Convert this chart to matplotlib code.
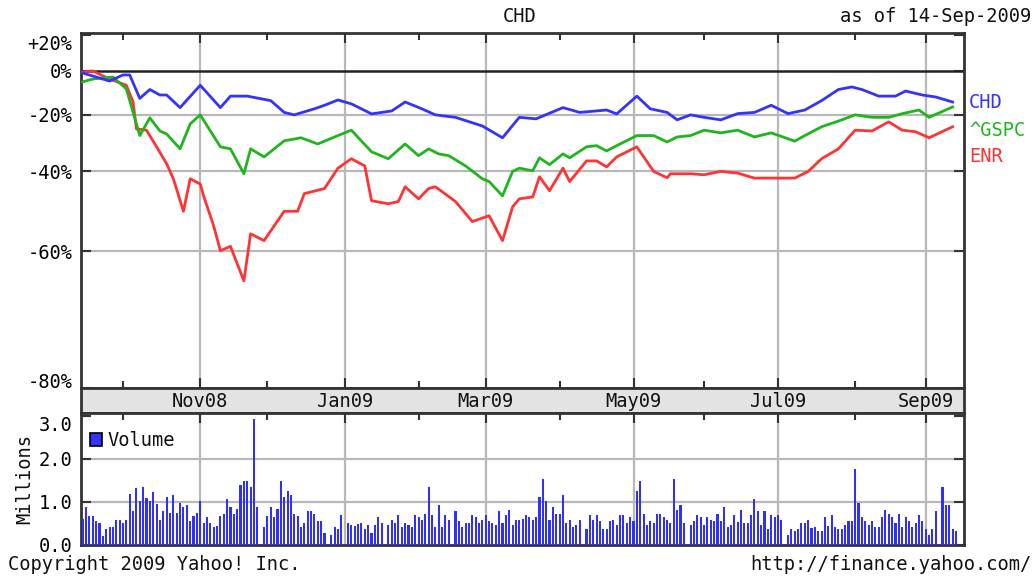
import numpy as np
import pandas as pd
import matplotlib
matplotlib.use('Agg')
import matplotlib.pyplot as plt
from matplotlib.transforms import blended_transform_factory
from matplotlib.patches import Rectangle
from matplotlib.ticker import NullLocator, FixedLocator

START = '2008-09-15'
END = '2009-09-14'
holidays = ['2008-11-27', '2008-12-25', '2009-01-01', '2009-01-19', '2009-02-16',
            '2009-04-10', '2009-05-25', '2009-07-03', '2009-09-07']

# ---- percent change series ----
chd_dates = ['2008-09-15', '2008-09-25', '2008-10-01', '2008-10-03', '2008-10-08', '2008-10-13',
             '2008-10-16', '2008-10-20', '2008-10-24', '2008-11-03', '2008-11-11', '2008-11-14',
             '2008-11-21', '2008-12-02', '2008-12-08', '2008-12-11', '2008-12-19', '2008-12-24',
             '2008-12-30', '2009-01-05', '2009-01-13', '2009-01-21', '2009-01-27', '2009-02-03',
             '2009-02-09', '2009-02-17', '2009-02-27', '2009-03-09', '2009-03-16', '2009-03-23',
             '2009-04-02', '2009-04-09', '2009-04-21', '2009-04-24', '2009-05-04', '2009-05-08',
             '2009-05-15', '2009-05-20', '2009-05-26', '2009-06-01', '2009-06-08', '2009-06-15',
             '2009-06-22', '2009-06-29', '2009-07-06', '2009-07-13', '2009-07-20', '2009-07-27',
             '2009-07-31', '2009-08-05', '2009-08-12', '2009-08-19', '2009-08-24', '2009-08-31',
             '2009-09-04', '2009-09-11']
chd_pct = [-1, -5, -2, -2, -13, -9, -11.5, -11.5, -17, -7, -17, -12,
           -12, -14, -19, -20, -17.5, -16, -13.7, -15.4, -19.6, -18.4, -14.6, -17.5,
           -20, -21, -24.4, -28.8, -21, -21.6, -17, -19, -18, -19.6, -12, -17.5,
           -19, -22, -20, -21, -22, -19.5, -19, -16, -19.5, -18, -14, -9,
           -7.8, -9, -12, -12, -9.7, -11.5, -12.4, -14.6]

gspc_dates = ['2008-09-15', '2008-09-18', '2008-09-26', '2008-10-02', '2008-10-08', '2008-10-13',
              '2008-10-16', '2008-10-20', '2008-10-24', '2008-10-29', '2008-11-03', '2008-11-11',
              '2008-11-14', '2008-11-20', '2008-11-24', '2008-11-28', '2008-12-08', '2008-12-15',
              '2008-12-22', '2008-12-30', '2009-01-05', '2009-01-13', '2009-01-20', '2009-01-27',
              '2009-02-02', '2009-02-05', '2009-02-10', '2009-02-13', '2009-02-20', '2009-02-27',
              '2009-03-03', '2009-03-09', '2009-03-12', '2009-03-16', '2009-03-20', '2009-03-24',
              '2009-03-27', '2009-04-02', '2009-04-06', '2009-04-13', '2009-04-16', '2009-04-21',
              '2009-04-27', '2009-05-04', '2009-05-11', '2009-05-15', '2009-05-20', '2009-05-26',
              '2009-06-01', '2009-06-08', '2009-06-15', '2009-06-22', '2009-06-29', '2009-07-08',
              '2009-07-13', '2009-07-20', '2009-07-27', '2009-08-03', '2009-08-10', '2009-08-17',
              '2009-08-21', '2009-08-28', '2009-09-02', '2009-09-11']
gspc_pct = [-5.4, -4, -3, -8.7, -28, -21.2, -26.3, -27.4, -32.7, -23.6, -20, -32,
            -32.7, -40.7, -32.7, -35.4, -29.9, -28.8, -31, -28, -26, -33.7, -36, -31,
            -35, -32.7, -34.4, -35, -38.3, -42.2, -43, -47, -40, -39, -39.8, -35.7,
            -37.9, -34.4, -35.7, -32, -31.6, -33.4, -31, -28, -28, -30.3, -28.5, -28,
            -26, -27, -26, -28.5, -27, -30, -28, -24.7, -22.5, -20, -21, -21,
            -19.5, -18, -21, -16.7]

enr_dates = ['2008-09-15', '2008-09-18', '2008-09-25', '2008-10-02', '2008-10-06', '2008-10-07',
             '2008-10-10', '2008-10-15', '2008-10-20', '2008-10-22', '2008-10-27', '2008-10-29',
             '2008-11-03', '2008-11-04', '2008-11-07', '2008-11-11', '2008-11-14', '2008-11-20',
             '2008-11-24', '2008-11-28', '2008-12-08', '2008-12-12', '2008-12-16', '2008-12-24',
             '2008-12-30', '2009-01-05', '2009-01-09', '2009-01-13', '2009-01-20', '2009-01-23',
             '2009-01-27', '2009-02-02', '2009-02-05', '2009-02-09', '2009-02-17', '2009-02-24',
             '2009-03-03', '2009-03-09', '2009-03-12', '2009-03-16', '2009-03-20', '2009-03-24',
             '2009-03-27', '2009-04-02', '2009-04-06', '2009-04-13', '2009-04-16', '2009-04-21',
             '2009-04-24', '2009-05-04', '2009-05-11', '2009-05-15', '2009-05-18', '2009-05-26',
             '2009-06-01', '2009-06-08', '2009-06-15', '2009-06-22', '2009-07-01', '2009-07-08',
             '2009-07-14', '2009-07-20', '2009-07-27', '2009-08-03', '2009-08-10', '2009-08-14',
             '2009-08-17', '2009-08-21', '2009-08-27', '2009-09-02', '2009-09-11']
enr_pct = [-0.5, 0, -4, -7, -14.6, -25.5, -26, -32, -37.6, -42.2, -51, -42.2,
           -43.7, -47, -54.5, -59.9, -59, -65.6, -56.3, -57.8, -51, -51, -46.4, -45,
           -39, -36, -38.3, -48.3, -49.1, -48.5, -44.5, -47.8, -45, -44.5, -48.5, -53.5,
           -52.1, -57.8, -49.9, -47.8, -47.3, -41.6, -45.6, -39, -43, -36.7, -36.7, -38.6,
           -35.4, -32, -40, -41.9, -40.7, -40.7, -41, -40, -40.5, -42, -42, -42,
           -40, -36, -32.7, -26, -26.3, -23.5, -22.8, -26, -26.6, -28.8, -24.7]

# ---- daily volume, millions (one value per trading session) ----
volume = [0.61, 0.88, 0.68, 0.68, 0.55, 0.50, 0.22, 0.36, 0.42, 0.42,
          0.59, 0.59, 0.50, 0.59, 1.19, 0.78, 1.32, 1.02, 1.34, 1.09,
          1.02, 1.24, 0.96, 0.59, 0.78, 1.11, 0.75, 1.15, 0.75, 0.98,
          0.88, 0.93, 0.55, 0.68, 0.75, 1.02, 0.52, 0.65, 0.50, 0.42,
          0.45, 0.67, 0.71, 1.07, 0.88, 0.71, 0.84, 1.38, 1.48, 1.48,
          1.35, 2.92, 0.88,
          0.42, 0.68, 0.88, 0.65, 0.84, 1.48, 1.11, 1.25, 1.15, 0.73,
          0.68, 0.42, 0.50, 0.78, 0.78, 0.73, 0.55, 0.55, 0.28,
          0.23, 0.42, 0.36, 0.69,
          0.50, 0.46, 0.43, 0.48, 0.50, 0.36, 0.46, 0.28, 0.46, 0.65, 0.50,
          0.46, 0.59, 0.52, 0.69, 0.42, 0.50, 0.46, 0.42, 0.69, 0.65,
          0.59, 0.73, 1.34, 0.69, 0.42, 0.92, 0.42, 0.69, 0.59,
          0.78, 0.55, 0.42, 0.50, 0.50, 0.69, 0.65, 0.50, 0.59, 0.69,
          0.55, 0.50, 0.46, 0.78, 0.50, 0.69, 0.82, 0.46, 0.59,
          0.59, 0.61, 0.69, 0.65, 0.59, 0.65, 1.12, 1.53, 1.01, 0.59,
          0.88, 0.73, 0.73, 1.15, 0.50, 0.59, 0.42, 0.46, 0.59,
          0.36, 0.69, 0.59, 0.69, 0.55, 0.36, 0.36, 0.55, 0.59, 0.46,
          0.69, 0.69, 0.50, 0.65, 0.55, 1.25, 1.48, 0.73, 0.46, 0.55,
          0.50, 0.73, 0.73, 0.65, 0.59, 0.50, 1.53, 0.82, 0.92, 0.50,
          0.46, 0.55, 0.69, 0.65, 0.46, 0.65, 0.59, 0.55, 0.73, 0.55,
          0.88, 0.42, 0.46, 0.69, 0.53, 0.82, 0.50, 0.50, 0.69, 1.07,
          0.78, 0.46, 0.78, 0.36, 0.69, 0.65, 0.69, 0.59,
          0.23, 0.36, 0.32, 0.36, 0.50, 0.50, 0.59, 0.40, 0.42, 0.32,
          0.32, 0.65, 0.45, 0.69, 0.42, 0.36, 0.36, 0.46, 0.55, 0.55,
          1.76, 0.98, 0.65, 0.55, 0.46, 0.55, 0.42, 0.42, 0.65, 0.82,
          0.73, 0.65, 0.50, 0.73, 0.42, 0.65, 0.55, 0.42, 0.50, 0.69,
          0.55, 0.36, 0.23, 0.36, 0.78,
          1.34, 0.92, 0.92, 0.36, 0.32]

month_starts = ['2008-10-01', '2008-11-01', '2008-12-01', '2009-01-01', '2009-02-01',
                '2009-03-01', '2009-04-01', '2009-05-01', '2009-06-01', '2009-07-01',
                '2009-08-01', '2009-09-01']
month_labels = ['', 'Nov08', '', 'Jan09', '', 'Mar09', '', 'May09', '', 'Jul09', '', 'Sep09']

pct_ticks = [20, 0, -20, -40, -60, -80]
pct_labels = ['+20%', '0%', '-20%', '-40%', '-60%', '-80%']
pct_grid = [-20, -40, -60]
vol_ticks = [0, 1, 2, 3]
vol_labels = ['0.0', '1.0', '2.0', '3.0']

# ---- helpers ----
def wpos(dates):
    """weekday-index scale used by the chart's time axis"""
    return np.busday_count(np.datetime64(START), np.array(dates, dtype='datetime64[D]'))

def ratio(p):
    return 1 + np.asarray(p, dtype=float) / 100.0

trade_days = pd.bdate_range(START, END, freq='C', holidays=holidays)
vol_x = wpos(trade_days.values.astype('datetime64[D]'))
n_days = np.busday_count(np.datetime64(START), np.datetime64(END))

FONT = 'DejaVu Sans Mono'
FS = 13.5
plt.rcParams['font.family'] = FONT

BLUE = '#3333ff'
GREEN = '#1fb51f'
RED = '#ff3333'
GRID = '#b8b8b8'
EDGE = '#333333'

W, H = 1036, 577
fig = plt.figure(figsize=(W / 100, H / 100), dpi=100)

def rect(l, t, r, b):
    return [l / W, 1 - b / H, (r - l) / W, (b - t) / H]

ax = fig.add_axes(rect(81, 33, 964, 388))
axb = fig.add_axes(rect(81, 388, 964, 413))
axv = fig.add_axes(rect(81, 413, 964, 545))

xlim = (-0.5, n_days + 2.4)
major_pos = [p for p, l in zip(wpos(month_starts), month_labels) if l]
minor_pos = [p for p, l in zip(wpos(month_starts), month_labels) if not l]

# ---- price panel ----
ax.set_yscale('log')
ax.set_ylim(0.1995, 1.213)
ax.set_xlim(*xlim)
for g in pct_grid:
    ax.axhline(ratio(g), color=GRID, lw=1.6, zorder=1)
for p in major_pos:
    ax.axvline(p, color=GRID, lw=1.6, zorder=1)
ax.axhline(1.0, color='#222222', lw=1.8, zorder=2)

ax.plot(wpos(enr_dates), ratio(enr_pct), color=RED, lw=2.0, zorder=3)
ax.plot(wpos(gspc_dates), ratio(gspc_pct), color=GREEN, lw=2.0, zorder=4)
ax.plot(wpos(chd_dates), ratio(chd_pct), color=BLUE, lw=2.0, zorder=5)

ax.yaxis.set_major_locator(FixedLocator(ratio(pct_ticks)))
ax.yaxis.set_minor_locator(NullLocator())
ax.set_yticklabels(pct_labels)
ax.set_xticks(major_pos)
ax.set_xticks(minor_pos, minor=True)
ax.tick_params(axis='both', which='major', direction='in', length=7, width=1.5,
               color=EDGE, left=True, right=True, top=True, bottom=True,
               labelbottom=False, labelsize=FS, pad=6)
ax.tick_params(axis='x', which='minor', direction='in', length=5, width=1.5,
               color=EDGE, top=True, bottom=True)
ax.tick_params(axis='y', which='both', labelsize=FS)
ylabels = ax.get_yticklabels()
ylabels[0].set_verticalalignment('top')
ylabels[-1].set_verticalalignment('baseline')
for s in ax.spines.values():
    s.set_linewidth(2)
    s.set_color(EDGE)

# ---- month label band ----
axb.set_facecolor('#e3e3e3')
axb.set_xlim(*xlim)
axb.set_ylim(0, 1)
axb.set_xticks([])
axb.set_yticks([])
for s in axb.spines.values():
    s.set_linewidth(2)
    s.set_color(EDGE)
tb = blended_transform_factory(axb.transData, axb.transAxes)
for p, l in zip(wpos(month_starts), month_labels):
    if l:
        axb.text(p, 0.45, l, transform=tb, ha='center', va='center', fontsize=FS, color='#111111')

# ---- volume panel ----
axv.set_xlim(*xlim)
axv.set_ylim(0, 3.06)
for g in [1, 2]:
    axv.axhline(g, color=GRID, lw=1.6, zorder=1)
for p in major_pos:
    axv.axvline(p, color=GRID, lw=1.6, zorder=1)
axv.bar(vol_x, volume, width=0.62, color='#2f2fff', edgecolor='none', zorder=3, align='center')
axv.set_yticks(vol_ticks)
axv.set_yticklabels(vol_labels)
axv.set_xticks(major_pos)
axv.set_xticks(minor_pos, minor=True)
axv.tick_params(axis='both', which='major', direction='in', length=7, width=1.5,
                color=EDGE, left=True, right=True, top=True, bottom=False,
                labelbottom=False, labelsize=FS, pad=6)
axv.tick_params(axis='x', which='minor', direction='in', length=5, width=1.5,
                color=EDGE, top=True, bottom=False)
vlabels = axv.get_yticklabels()
vlabels[-1].set_verticalalignment('top')
for s in axv.spines.values():
    s.set_linewidth(2)
    s.set_color(EDGE)

# volume legend
fig.add_artist(Rectangle((90 / W, 1 - 446 / H), 12 / W, 13 / H, transform=fig.transFigure,
                         facecolor=BLUE, edgecolor='black', lw=1.2))
fig.text(107 / W, 1 - 441 / H, 'Volume', ha='left', va='center', fontsize=FS, color='#111111')
fig.text(25 / W, 1 - 479 / H, 'Millions', rotation=90, ha='center', va='center',
         fontsize=FS, color='#111111')

# ---- texts ----
fig.text(520 / W, 1 - 17 / H, 'CHD', ha='center', va='center', fontsize=FS, color='#111111')
fig.text(1031 / W, 1 - 17 / H, 'as of 14-Sep-2009', ha='right', va='center', fontsize=FS, color='#111111')
fig.text(8 / W, 1 - 564 / H, 'Copyright 2009 Yahoo! Inc.', ha='left', va='center', fontsize=FS, color='#111111')
fig.text(1031 / W, 1 - 564 / H, 'http://finance.yahoo.com/', ha='right', va='center', fontsize=FS, color='#111111')
fig.text(969 / W, 1 - 103 / H, 'CHD', ha='left', va='center', fontsize=FS, color=BLUE)
fig.text(969 / W, 1 - 130 / H, '^GSPC', ha='left', va='center', fontsize=FS, color=GREEN)
fig.text(969 / W, 1 - 157 / H, 'ENR', ha='left', va='center', fontsize=FS, color=RED)

fig.savefig('out.png', dpi=100, facecolor='white')
